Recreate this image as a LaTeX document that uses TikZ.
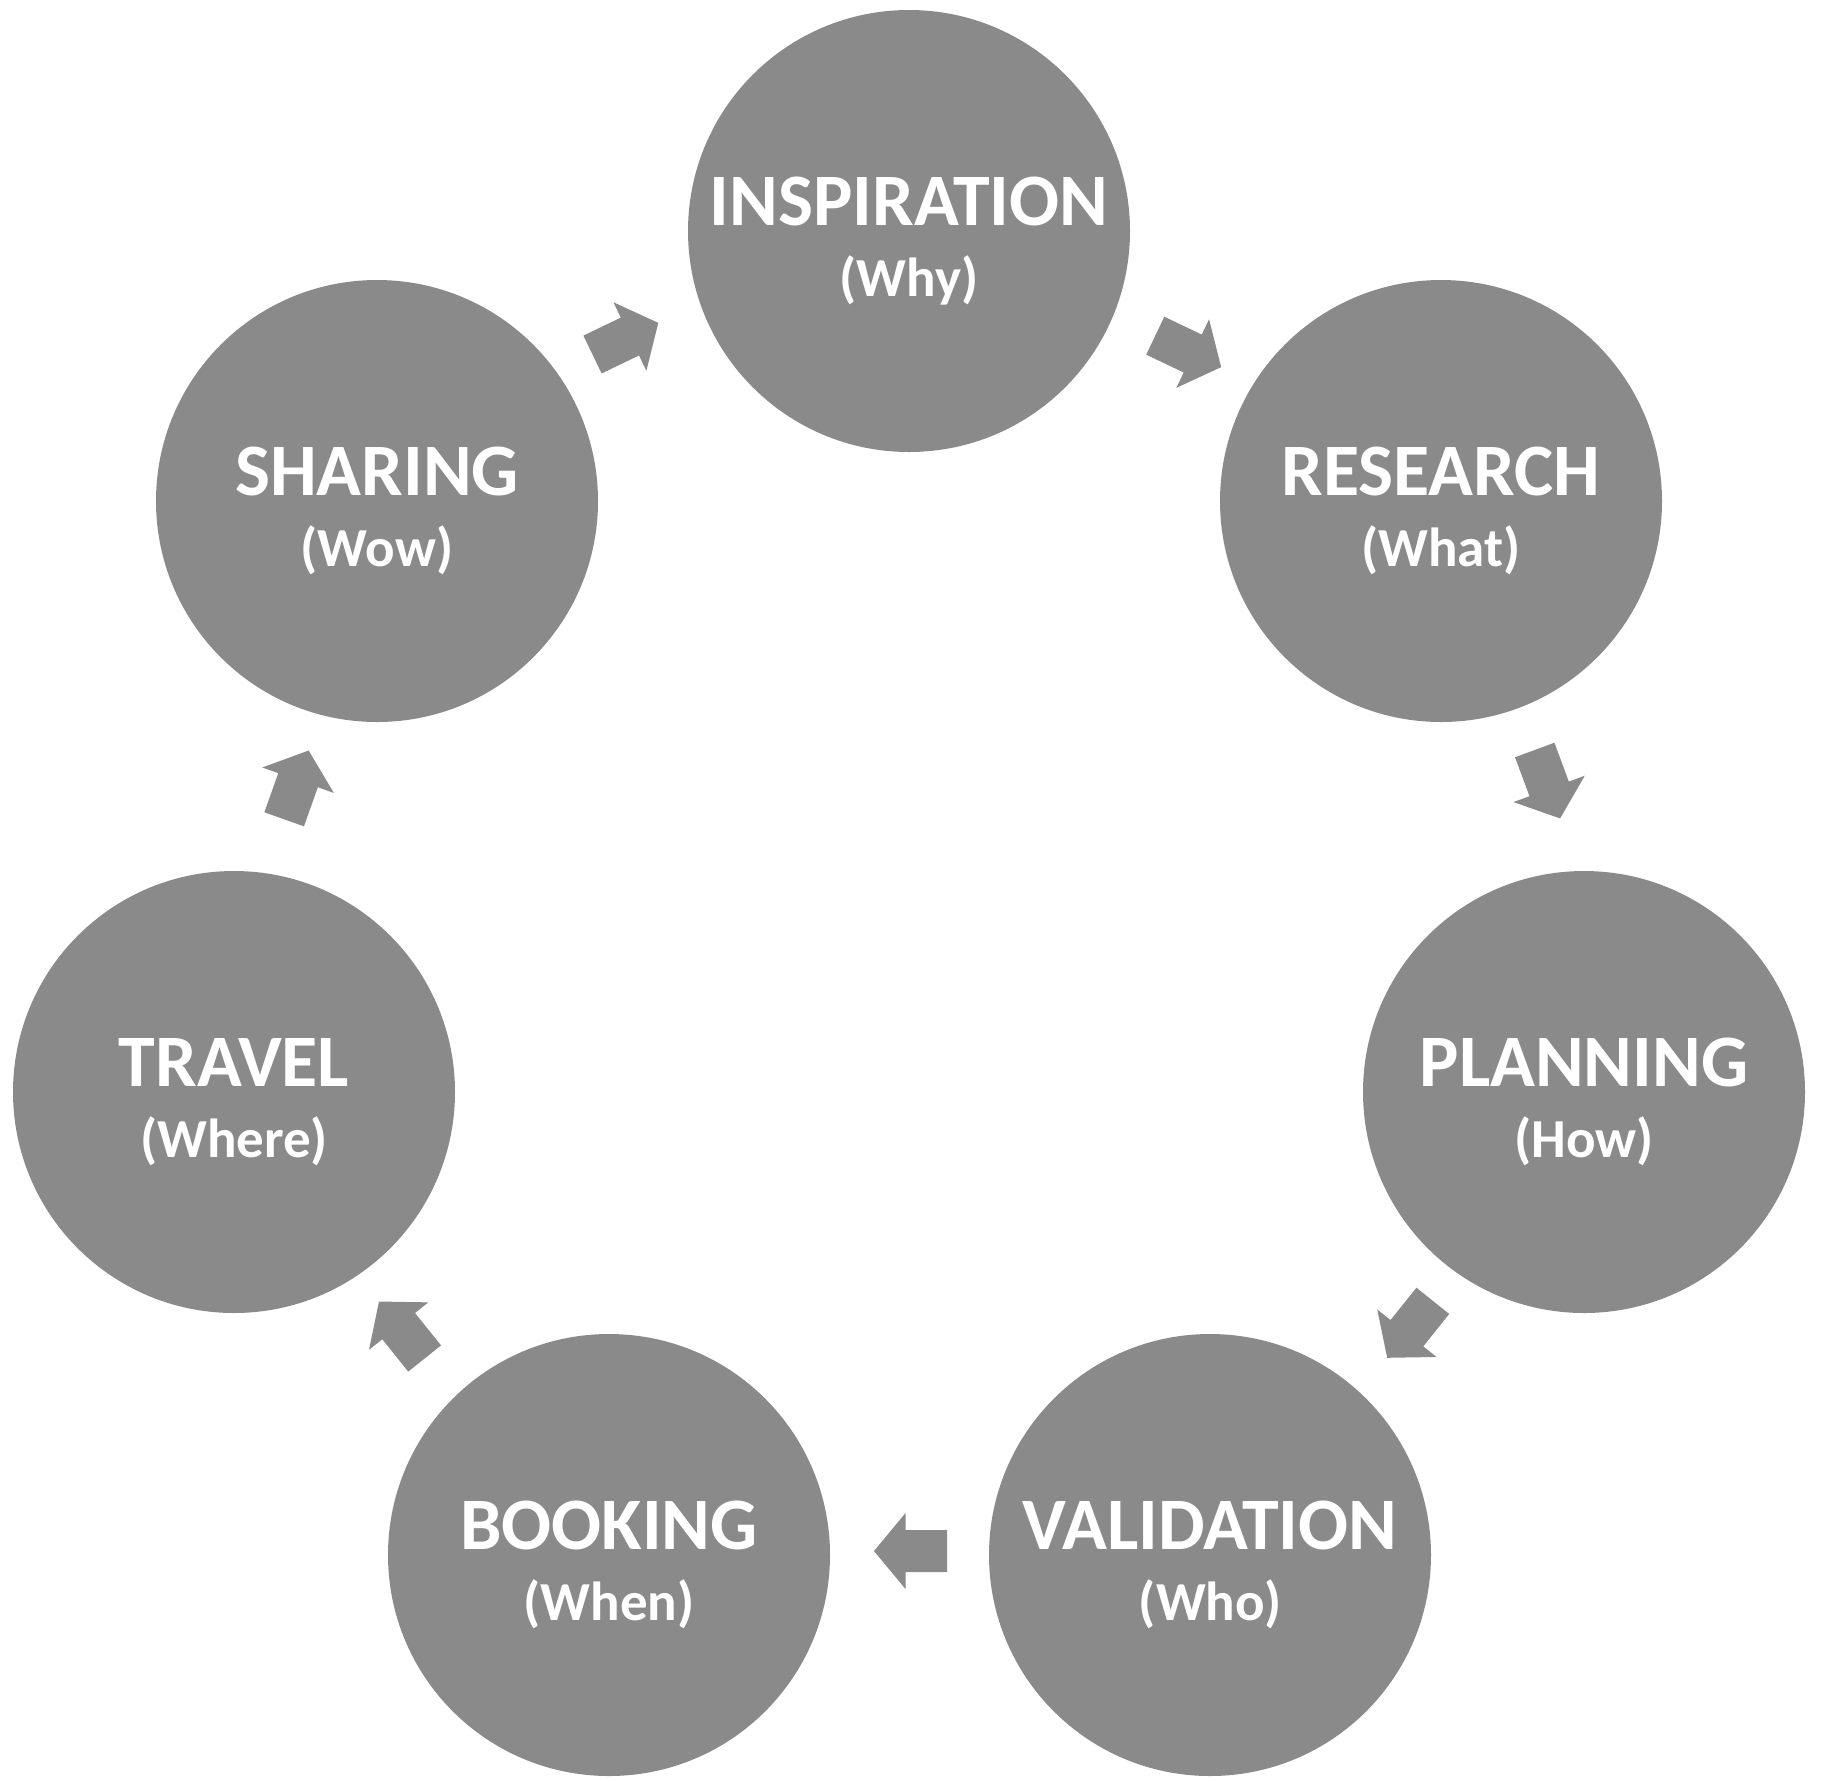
\documentclass[tikz,border=0pt]{standalone}
\usepackage{fontspec}
\setmainfont{Carlito}
\definecolor{stagegray}{RGB}{138,138,138}
\tikzset{
	stage/.style={circle,fill=stagegray,minimum size=442pt,inner sep=0pt},
	stagetitle/.style={anchor=base,yshift=6pt,text=white,font=\bfseries\fontsize{74}{80}\selectfont},
	stagesub/.style={anchor=base,yshift=-65pt,text=white,font=\bfseries\fontsize{55}{60}\selectfont},
	flow/.pic={\fill[stagegray](-36.5,-21)--(5,-21)--(5,-38)--(36.5,0)--(5,38)--(5,21)--(-36.5,21)--cycle;}
}
\begin{document}
\begin{tikzpicture}[x=1pt,y=-1pt]
			\useasboundingbox(0,0)rectangle(1825,1781);
			\node[stage](insp)at(909,231){};
			\node[stage](res)at(1441,501){};
			\node[stage](plan)at(1584,1092){};
			\node[stage](val)at(1210,1555){};
			\node[stage](book)at(609,1555){};
			\node[stage](trav)at(234,1092){};
			\node[stage](shar)at(377,501){};
			\node[stagetitle](insp-t)at(insp){INSPIRATION};
			\node[stagesub](insp-s)at(insp){(Why)};
			\node[stagetitle](res-t)at(res){RESEARCH};
			\node[stagesub](res-s)at(res){(What)};
			\node[stagetitle](plan-t)at(plan){PLANNING};
			\node[stagesub](plan-s)at(plan){(How)};
			\node[stagetitle](val-t)at(val){VALIDATION};
			\node[stagesub](val-s)at(val){(Who)};
			\node[stagetitle](book-t)at(book){BOOKING};
			\node[stagesub](book-s)at(book){(When)};
			\node[stagetitle](trav-t)at(trav){TRAVEL};
			\node[stagesub](trav-s)at(trav){(Where)};
			\node[stagetitle](shar-t)at(shar){SHARING};
			\node[stagesub](shar-s)at(shar){(Wow)};
			% arrows round the cycle
			\pic[rotate=25.7](a1)at(625.4,338.7){flow};
			\pic[rotate=-25.5](a2)at(1188.2,351.4){flow};
			\pic[rotate=-69.7](a3)at(1547.4,784.2){flow};
			\pic[rotate=-128.7](a4)at(1410,1329.3){flow};
			\pic[rotate=180](a5)at(910.5,1551){flow};
			\pic[rotate=128.7](a6)at(401.8,1330){flow};
			\pic[rotate=70.4](a7)at(296.4,784.9){flow};
		\end{tikzpicture}
\end{document}
